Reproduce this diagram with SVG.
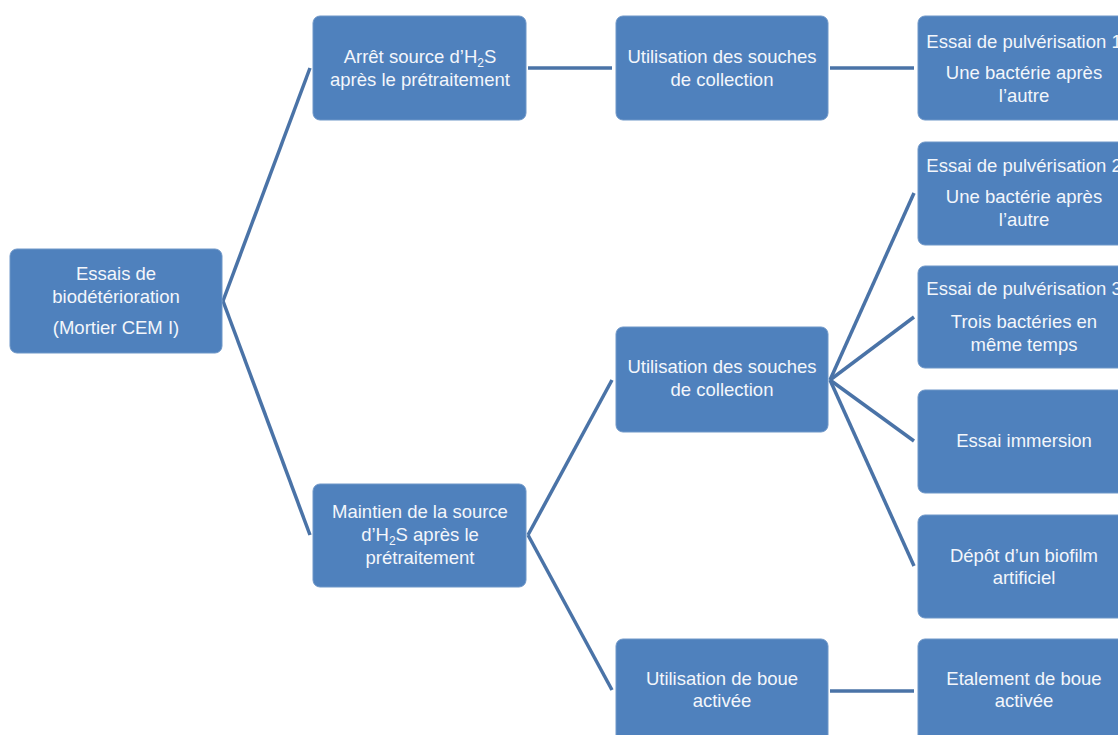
<svg xmlns="http://www.w3.org/2000/svg" width="1118" height="735" viewBox="0 0 1118 735">
<style>
.n{fill:#4f81bd;stroke:#6f97c8;stroke-width:1}
.t{font-family:"Liberation Sans",Arial,sans-serif;font-size:18.5px;fill:#f3f6fb;text-anchor:middle}
.sub{font-size:12px}
.c line{stroke:#4a73a7;stroke-width:3.5;stroke-linecap:butt}
</style>
<rect width="1118" height="735" fill="#ffffff"/>
<g class="c" id="connectors">
<line x1="223" y1="301" x2="310" y2="68"/>
<line x1="223" y1="301" x2="310" y2="535"/>
<line x1="528" y1="68" x2="612" y2="68"/>
<line x1="830" y1="68" x2="914" y2="68"/>
<line x1="528" y1="535" x2="612" y2="380"/>
<line x1="528" y1="535" x2="612" y2="690"/>
<line x1="830" y1="380" x2="914" y2="193"/>
<line x1="830" y1="380" x2="914" y2="317"/>
<line x1="830" y1="380" x2="914" y2="441"/>
<line x1="830" y1="380" x2="914" y2="566"/>
<line x1="830" y1="691" x2="914" y2="691"/>
</g>
<g id="n-root"><rect class="n" x="10" y="249" width="212" height="104" rx="7"/>
<text class="t" x="116" y="280">Essais de</text>
<text class="t" x="116" y="303">biodétérioration</text>
<text class="t" x="116" y="334">(Mortier CEM I)</text></g>
<g id="n-arret"><rect class="n" x="313" y="16" width="213" height="104" rx="7"/>
<text class="t" x="420" y="63">Arrêt source d’H<tspan class="sub" dy="4">2</tspan><tspan dy="-4">S</tspan></text>
<text class="t" x="420" y="86">après le prétraitement</text></g>
<g id="n-util1"><rect class="n" x="616" y="16" width="212" height="104" rx="7"/>
<text class="t" x="722" y="63">Utilisation des souches</text>
<text class="t" x="722" y="86">de collection</text></g>
<g id="n-p1"><rect class="n" x="918" y="16" width="212" height="104" rx="7"/>
<text class="t" x="1024" y="48">Essai de pulvérisation 1</text>
<text class="t" x="1024" y="79">Une bactérie après</text>
<text class="t" x="1024" y="102">l’autre</text></g>
<g id="n-p2"><rect class="n" x="918" y="142" width="212" height="103" rx="7"/>
<text class="t" x="1024" y="172">Essai de pulvérisation 2</text>
<text class="t" x="1024" y="203">Une bactérie après</text>
<text class="t" x="1024" y="226">l’autre</text></g>
<g id="n-p3"><rect class="n" x="918" y="266" width="212" height="102" rx="7"/>
<text class="t" x="1024" y="295">Essai de pulvérisation 3</text>
<text class="t" x="1024" y="328">Trois bactéries en</text>
<text class="t" x="1024" y="351">même temps</text></g>
<g id="n-imm"><rect class="n" x="918" y="390" width="212" height="103" rx="7"/>
<text class="t" x="1024" y="447">Essai immersion</text></g>
<g id="n-bio"><rect class="n" x="918" y="515" width="212" height="103" rx="7"/>
<text class="t" x="1024" y="562">Dépôt d’un biofilm</text>
<text class="t" x="1024" y="584">artificiel</text></g>
<g id="n-maintien"><rect class="n" x="313" y="484" width="213" height="103" rx="7"/>
<text class="t" x="420" y="518">Maintien de la source</text>
<text class="t" x="420" y="541">d’H<tspan class="sub" dy="4">2</tspan><tspan dy="-4">S après le</tspan></text>
<text class="t" x="420" y="564">prétraitement</text></g>
<g id="n-util2"><rect class="n" x="616" y="327" width="212" height="105" rx="7"/>
<text class="t" x="722" y="373">Utilisation des souches</text>
<text class="t" x="722" y="396">de collection</text></g>
<g id="n-boue"><rect class="n" x="616" y="639" width="212" height="110" rx="7"/>
<text class="t" x="722" y="685">Utilisation de boue</text>
<text class="t" x="722" y="707">activée</text></g>
<g id="n-etal"><rect class="n" x="918" y="639" width="212" height="110" rx="7"/>
<text class="t" x="1024" y="685">Etalement de boue</text>
<text class="t" x="1024" y="707">activée</text></g>
</svg>
